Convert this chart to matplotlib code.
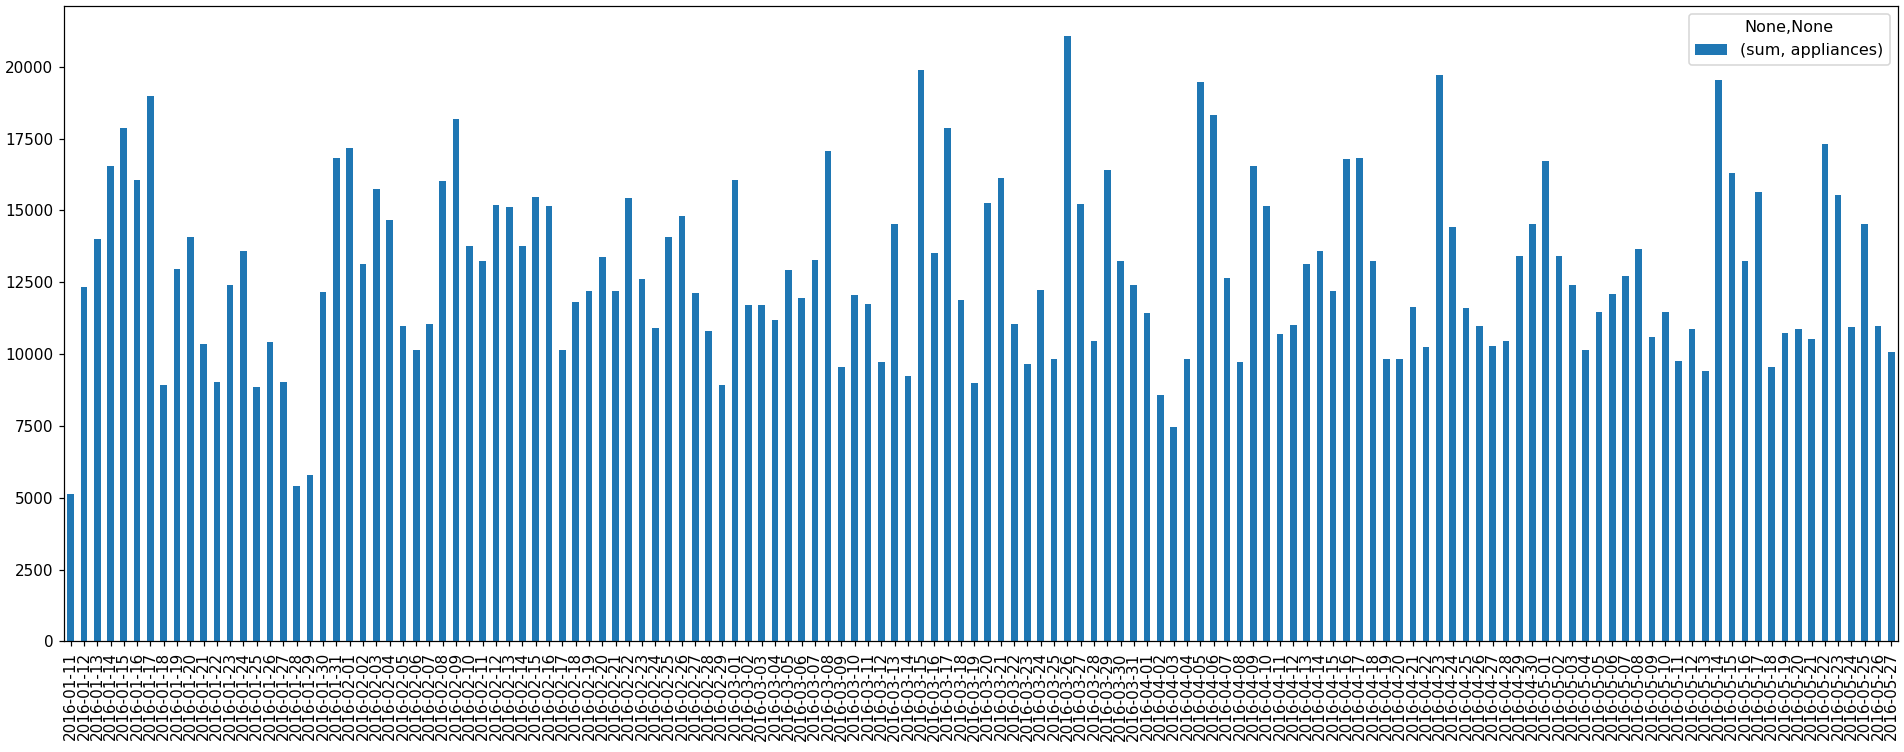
import numpy as np
import pandas as pd
import matplotlib
matplotlib.use("Agg")
import matplotlib.pyplot as plt

# daily dates on the x axis
dates = pd.date_range("2016-01-11", "2016-05-27", freq="D")
date_labels = [d.strftime("%Y-%m-%d") for d in dates]

# daily sum of appliances
jan = [5120, 12330, 14000, 16550, 17860, 16050, 18970, 8940, 12950, 14090,
       10360, 9020, 12420, 13600, 8870, 10410, 9020, 5410, 5790, 12170,
       16830]
feb = [17160, 13140, 15730, 14660, 10970, 10130, 11060, 16010, 18190, 13770,
       13230, 15200, 15110, 13770, 15470, 15150, 10130, 11800, 12210, 13390,
       12210, 15440, 12620, 10900, 14090, 14790, 12110, 10810, 8940]
mar = [16050, 11700, 11700, 11190, 12910, 11960, 13270, 17070, 9550, 12050,
       11730, 9720, 14540, 9230, 19870, 13520, 17860, 11880, 8980, 15270,
       16130, 11060, 9650, 12240, 9840, 21060, 15230, 10470, 16420, 13230,
       12420]
apr = [11440, 8570, 7470, 9840, 19460, 18310, 12660, 9720, 16540, 15150,
       10700, 11020, 13140, 13600, 12210, 16780, 16830, 13230, 9840, 9840,
       11630, 10250, 19710, 14410, 11600, 10970, 10290, 10450, 13430, 14510]
may = [16710, 13430, 12420, 10130, 11480, 12100, 12710, 13640, 10580, 11480,
       9770, 10870, 9420, 19530, 16300, 13230, 15630, 9550, 10740, 10870,
       10510, 17320, 15530, 10950, 14540, 10990, 10070]

appliances_sum = jan + feb + mar + apr + may

dpi = 110
fig = plt.figure(figsize=(1905 / dpi, 752 / dpi), dpi=dpi)
ax = fig.add_axes([0.0336, 0.147, 0.9627, 0.845])

x = np.arange(len(appliances_sum))
ax.bar(x, appliances_sum, width=0.5, color="#1f77b4", label="(sum, appliances)")
ax.set_xticks(x)
ax.set_xticklabels(date_labels, rotation=90)
ax.set_xlim(-0.5, len(x) - 0.5)
ax.set_ylim(0, max(appliances_sum) * 1.05)
ax.legend(title="None,None", loc="upper right", fontsize=10.5, title_fontsize=10.5)

fig.savefig("out.png", dpi=dpi)
